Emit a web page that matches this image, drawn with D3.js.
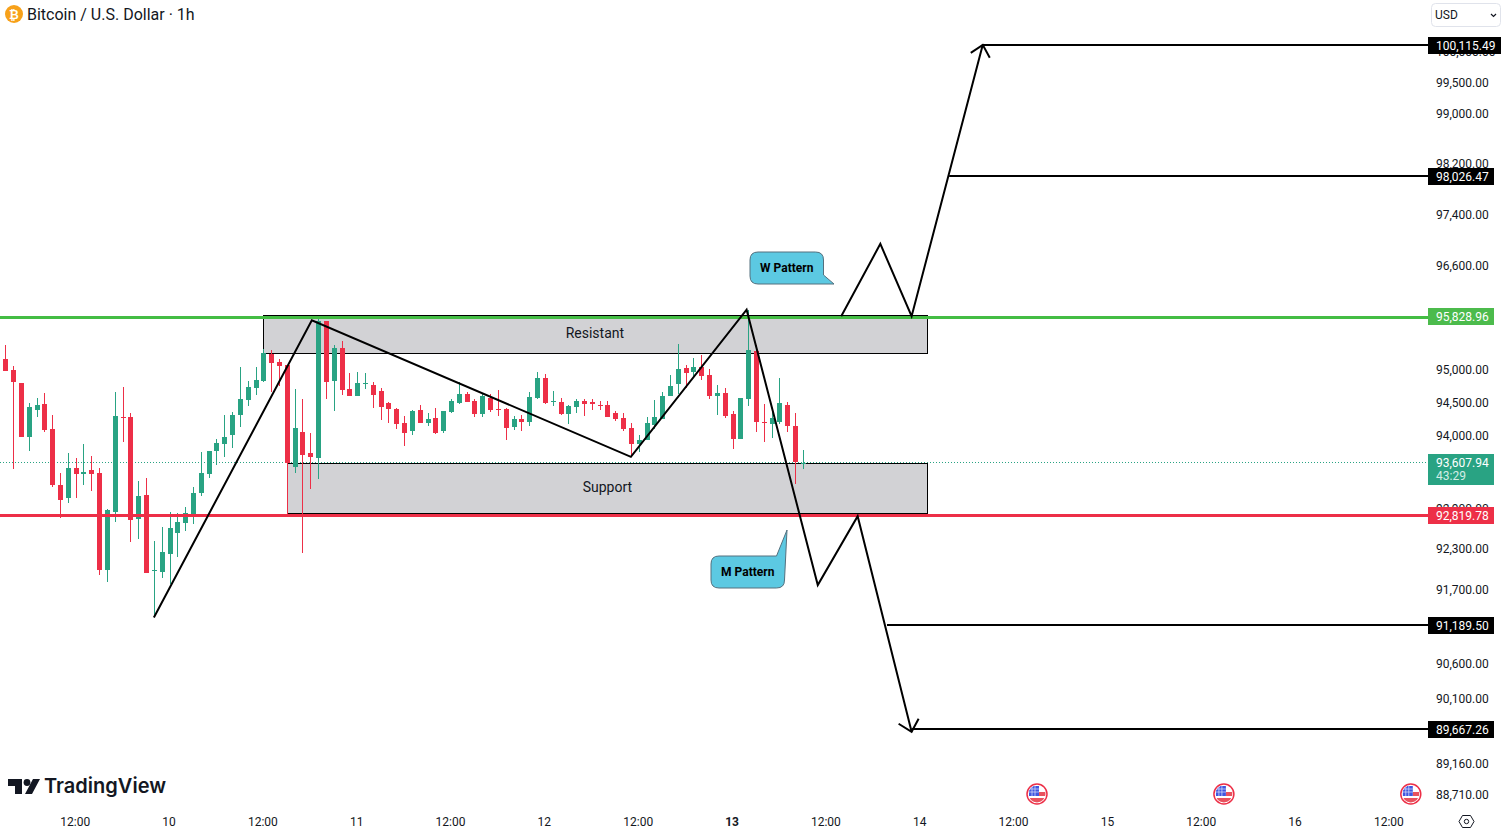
<!DOCTYPE html>
<html>
<head>
<meta charset="utf-8">
<title>Bitcoin / U.S. Dollar</title>
<script src="https://cdn.jsdelivr.net/npm/d3@7/dist/d3.min.js"></script>
<style>
  html, body { margin: 0; padding: 0; background: #fff; overflow: hidden; }
  svg { display: block; font-family: Roboto, sans-serif; }
</style>
</head>
<body>
<div id="chart"></div>
<script>
// hourly candles, first one is hour -1 (partly cut off on the left)
const firstHour = -1;
const opens = [95106,95183,95014,94816,93996,94406,94497,94117,93275,93075,93530,93440,93500,93455,92004,92868,94300,94300,92763,93120,91995,91975,92243,92555,92704,92823,93150,93440,93785,93890,94025,94330,94558,94740,94846,95260,95137,95091,93545,94071,93755,93680,95767,94846,95352,94725,94618,94801,94786,94695,94512,94421,94208,94086,94406,94208,94284,94086,94375,94512,94649,94542,94345,94588,94421,94421,94147,94269,94223,94588,94892,94527,94527,94345,94451,94542,94527,94481,94481,94360,94284,94132,93890,93950,94177,94269,94618,94801,95045,94983,95060,94938,94618,94664,94345,93965,94573,95306,94223,94193,94223,94481,94162,93605];
const highs = [95183,95398,95075,94816,94512,94588,94664,94330,93455,93755,93680,93890,93710,93530,92912,94679,94755,94360,93335,93380,92436,92644,92868,92853,92942,93245,93770,93785,93965,94330,94375,95060,94846,95060,95337,95321,95183,95091,94725,94573,94056,95814,95767,95398,95460,94968,94983,94968,94831,94740,94527,94436,94314,94406,94481,94360,94436,94390,94573,94831,94679,94573,94649,94649,94710,94436,94314,94330,94679,94983,94953,94694,94588,94481,94573,94573,94573,94542,94542,94390,94360,94208,94025,94299,94558,94679,94938,95414,95091,95198,95245,95029,94786,94740,94390,94588,95937,95398,94497,94405,94892,94527,94360,93800];
const lows = [95106,94998,93515,93996,93785,94300,94071,93245,92778,93000,93075,93275,93180,91931,91827,92719,93920,92421,92466,91960,91306,91887,91798,92198,92585,92689,93105,93380,93575,93695,93830,94147,94466,94634,94831,94679,94770,92838,93455,92258,93215,93365,94573,94390,94634,94618,94618,94725,94436,94253,94208,94117,93860,94025,94208,94162,94041,94056,94360,94497,94527,94299,94299,94375,94314,93950,94101,94086,94162,94573,94497,94466,94329,94193,94360,94314,94405,94405,94299,94238,94086,93695,93770,93950,94116,94269,94618,94649,94740,94907,94862,94573,94329,94284,93815,93965,94466,94071,93920,93980,94193,94071,93290,93515];
const closes = [95183,94998,94831,93996,94451,94482,94101,93275,93045,93530,93440,93470,93440,92004,92897,94315,94284,92749,93105,91960,92004,92272,92630,92719,92853,93150,93455,93785,93905,93996,94330,94573,94755,94862,95275,95122,95075,93605,94132,93725,93695,95767,94831,95352,94710,94618,94816,94821,94634,94451,94421,94193,94056,94390,94208,94269,94056,94390,94542,94649,94527,94345,94618,94406,94406,94132,94269,94223,94603,94892,94512,94542,94345,94466,94542,94497,94497,94471,94299,94269,94116,93890,93950,94208,94299,94618,94770,95029,94968,95060,94922,94618,94664,94314,93965,94588,95321,94223,94208,94284,94512,94162,93620,93607.94];

// right axis, log scale
const priceTicks = [100000,99500,99000,98200,97400,96600,95800,95000,94500,94000,93500,92900,92300,91700,91160,90600,90100,89160,88710];

// bottom axis, hours from the first day
const timeTicks = [9,21,33,45,57,69,81,93,105,117,129,141,153,165,177];
const timeLabels = ["12:00","10","12:00","11","12:00","12","12:00","13","12:00","14","12:00","15","12:00","16","12:00"];

// levels
const resistantLevel = 95828.96;
const supportLevel = 92819.78;
const lastPrice = 93607.94;
const countdown = "43:29";
const targetStarts = [125, 120.7, 112.75, 115.9];
const targetPrices = [100115.49, 98026.47, 91189.50, 89667.26];

// drawn zones
const zoneNames = ["Resistant", "Support"];
const zoneStarts = [32.95, 36];
const zoneEnds = [117.9, 117.9];
const zoneTops = [95864, 93600];
const zoneBottoms = [95280, 92856];
const zoneLabelHours = [75.4, 77];
const zoneLabelPrices = [95580, 93240];

// hand drawn swing lines
const swingHours = [19, 39.2, 80, 94.8, 103.9, 109, 115.9];
const swingPrices = [91306, 95783, 93700, 95948, 91783, 92808, 89640];
const wHours = [106.9, 111.9, 115.9, 125];
const wPrices = [95846, 96970, 95846, 100130];

const eventHours = [132, 155.9, 179.8];

const W = 1502, H = 832;
const plotRight = 1428;

const x = d3.scaleLinear().domain([0, 177]).range([5.3, 1389.4]);
const y = d3.scaleLog().domain([99500, 88710]).range([84, 796.5]);

const UP = "#29a383", DOWN = "#ed2f47", LINE_GREEN = "#44bd44", INK = "#131722";

const svg = d3.select("#chart").append("svg")
  .attr("width", W)
  .attr("height", H);

const candles = opens.map((o, i) => ({
  hour: firstHour + i, o, h: highs[i], l: lows[i], c: closes[i]
}));

// zones go below the candles
const zones = zoneNames.map((name, i) => ({
  name, x0: zoneStarts[i], x1: zoneEnds[i], top: zoneTops[i], bottom: zoneBottoms[i],
  lx: zoneLabelHours[i], ly: zoneLabelPrices[i]
}));
svg.append("g").selectAll("rect")
  .data(zones)
  .join("rect")
  .attr("x", d => Math.round(x(d.x0)) + 0.5)
  .attr("y", d => Math.round(y(d.top)) + 0.5)
  .attr("width", d => Math.round(x(d.x1) - x(d.x0)))
  .attr("height", d => Math.round(y(d.bottom)) - Math.round(y(d.top)))
  .attr("fill", "#d2d2d5")
  .attr("stroke", "#000")
  .attr("stroke-width", 1);

svg.append("line")
  .attr("x1", 0)
  .attr("x2", plotRight)
  .attr("y1", Math.floor(y(lastPrice)) + 0.5)
  .attr("y2", Math.floor(y(lastPrice)) + 0.5)
  .attr("stroke", UP)
  .attr("stroke-dasharray", "1 2");

// candles
const candleG = svg.append("g");
candleG.selectAll(".wick")
  .data(candles)
  .join("rect")
  .attr("class", "wick")
  .attr("x", d => Math.round(x(d.hour)))
  .attr("y", d => Math.round(y(d.h)))
  .attr("width", 1)
  .attr("height", d => Math.max(1, Math.round(y(d.l)) - Math.round(y(d.h))))
  .attr("fill", d => d.c >= d.o ? UP : DOWN);
candleG.selectAll(".body")
  .data(candles)
  .join("rect")
  .attr("class", "body")
  .attr("x", d => Math.round(x(d.hour)) - 2)
  .attr("y", d => Math.round(y(Math.max(d.o, d.c))))
  .attr("width", 5)
  .attr("height", d => Math.max(1, Math.round(y(Math.min(d.o, d.c))) - Math.round(y(Math.max(d.o, d.c)))))
  .attr("fill", d => d.c >= d.o ? UP : DOWN);

svg.append("g").selectAll("text")
  .data(zones)
  .join("text")
  .attr("x", d => x(d.lx))
  .attr("y", d => y(d.ly))
  .attr("text-anchor", "middle")
  .attr("dominant-baseline", "central")
  .attr("font-size", 14)
  .attr("fill", INK)
  .text(d => d.name);

// support and resistance lines
svg.append("g").selectAll("line")
  .data([[resistantLevel, LINE_GREEN], [supportLevel, DOWN]])
  .join("line")
  .attr("x1", 0)
  .attr("x2", plotRight)
  .attr("y1", d => Math.round(y(d[0])) + 0.5)
  .attr("y2", d => Math.round(y(d[0])) + 0.5)
  .attr("stroke", d => d[1])
  .attr("stroke-width", 3);

// swing lines
const path = d3.line().x(d => x(d[0])).y(d => y(d[1]));
svg.append("path")
  .attr("d", path(swingHours.map((h, i) => [h, swingPrices[i]])))
  .attr("fill", "none")
  .attr("stroke", "#000")
  .attr("stroke-width", 2);
svg.append("path")
  .attr("d", path(wHours.map((h, i) => [h, wPrices[i]])))
  .attr("fill", "none")
  .attr("stroke", "#000")
  .attr("stroke-width", 2);

// arrow heads
const upTip = [x(wHours[3]), y(wPrices[3])];
const downTip = [x(swingHours[6]), y(swingPrices[6])];
svg.append("path")
  .attr("d", `M${upTip[0] - 12},${upTip[1] + 8}L${upTip[0]},${upTip[1]}L${upTip[0] + 7},${upTip[1] + 13}`)
  .attr("fill", "none").attr("stroke", "#000").attr("stroke-width", 2);
svg.append("path")
  .attr("d", `M${downTip[0] - 13},${downTip[1] - 8}L${downTip[0]},${downTip[1]}L${downTip[0] + 7},${downTip[1] - 13}`)
  .attr("fill", "none").attr("stroke", "#000").attr("stroke-width", 2);

// target lines
svg.append("g").selectAll("line")
  .data(targetPrices)
  .join("line")
  .attr("x1", (d, i) => x(targetStarts[i]))
  .attr("x2", plotRight)
  .attr("y1", d => Math.floor(y(d)))
  .attr("y2", d => Math.floor(y(d)))
  .attr("stroke", "#000")
  .attr("stroke-width", 2);

// callouts
function callout(left, top, w, h, tail, label) {
  const r = 8;
  const tailX = tail[0] - left, tailY = tail[1] - top;
  let d;
  if (tailY > h / 2) {
    // tail off the lower right corner
    d = `M${r},0H${w - r}Q${w},0 ${w},${r}V${h - 9}L${tailX},${h}H${r}Q0,${h} 0,${h - r}V${r}Q0,0 ${r},0Z`;
  } else {
    // tail off the upper right corner
    d = `M${r},0H${w - 8}L${tailX},${tailY}L${w},${h - r}Q${w},${h} ${w - r},${h}H${r}Q0,${h} 0,${h - r}V${r}Q0,0 ${r},0Z`;
  }
  const g = svg.append("g").attr("transform", `translate(${left},${top})`);
  g.append("path").attr("d", d)
    .attr("fill", "#5cc9e2")
    .attr("stroke", "#54707e")
    .attr("stroke-width", 1);
  g.append("text")
    .attr("x", w / 2)
    .attr("y", h / 2)
    .attr("text-anchor", "middle")
    .attr("dominant-baseline", "central")
    .attr("font-size", 12)
    .attr("font-weight", 700)
    .attr("fill", "#000")
    .text(label);
}
callout(750, 252, 73.5, 32, [834, 284], "W Pattern");
callout(711, 556, 73.5, 32, [787, 530], "M Pattern");

// price axis
const yAxis = d3.axisRight(y)
  .tickValues(priceTicks)
  .tickSize(0)
  .tickPadding(0)
  .tickFormat(d3.format(",.2f"));
const yAxisG = svg.append("g")
  .attr("transform", "translate(1436,-1.5)")
  .call(yAxis);
yAxisG.select(".domain").remove();
yAxisG.selectAll("text")
  .attr("font-family", "Roboto, sans-serif")
  .attr("font-size", 12)
  .attr("fill", INK);

// price labels on the axis
const priceFmt = d3.format(",.2f");
const tags = [
  { p: targetPrices[0], fill: "#000", w: 73, dy: 0 },
  { p: targetPrices[1], fill: "#000", w: 66, dy: 0 },
  { p: resistantLevel, fill: "#4cbb4c", w: 66, dy: -1 },
  { p: supportLevel, fill: DOWN, w: 66, dy: 0 },
  { p: targetPrices[2], fill: "#000", w: 66, dy: 0 },
  { p: targetPrices[3], fill: "#000", w: 66, dy: 0 }
];
const tagG = svg.append("g").selectAll("g")
  .data(tags)
  .join("g")
  .attr("transform", d => `translate(1428,${Math.floor(y(d.p)) - 8 + d.dy})`);
tagG.append("rect")
  .attr("width", d => d.w)
  .attr("height", 17)
  .attr("fill", d => d.fill);
tagG.append("text")
  .attr("x", 8)
  .attr("y", 8.5)
  .attr("dominant-baseline", "central")
  .attr("font-size", 12)
  .attr("fill", "#fff")
  .text(d => priceFmt(d.p));

const lastG = svg.append("g").attr("transform", `translate(1428,${Math.floor(y(lastPrice)) - 8})`);
lastG.append("rect").attr("width", 66).attr("height", 31).attr("fill", UP);
lastG.append("text")
  .attr("x", 8).attr("y", 8.5)
  .attr("dominant-baseline", "central")
  .attr("font-size", 12).attr("fill", "#fff")
  .text(priceFmt(lastPrice));
lastG.append("text")
  .attr("x", 8).attr("y", 22)
  .attr("dominant-baseline", "central")
  .attr("font-size", 12).attr("fill", "#d4ede6")
  .text(countdown);

// time axis
const xAxis = d3.axisBottom(x)
  .tickValues(timeTicks)
  .tickSize(0)
  .tickPadding(0)
  .tickFormat((d, i) => timeLabels[i]);
const xAxisG = svg.append("g")
  .attr("transform", "translate(-1,817)")
  .call(xAxis);
xAxisG.select(".domain").remove();
xAxisG.selectAll("text")
  .attr("font-family", "Roboto, sans-serif")
  .attr("font-size", 12)
  .attr("fill", INK)
  .attr("font-weight", d => d === 93 ? 700 : 400);

// economic event flags
const defs = svg.append("defs");
defs.append("clipPath").attr("id", "flagClip").append("circle").attr("r", 8.5);
const flags = svg.append("g").selectAll("g")
  .data(eventHours)
  .join("g")
  .attr("transform", d => `translate(${x(d) - 0.5},794)`);
flags.append("circle").attr("r", 10).attr("fill", "#fff").attr("stroke", DOWN).attr("stroke-width", 1.5);
const flagBody = flags.append("g").attr("clip-path", "url(#flagClip)");
flagBody.append("rect").attr("x", 2).attr("y", -2).attr("width", 7).attr("height", 4).attr("fill", "#e8525e");
flagBody.append("rect").attr("x", -9).attr("y", 4).attr("width", 18).attr("height", 5).attr("fill", "#e8525e");
flagBody.append("rect").attr("x", -8).attr("y", -8).attr("width", 10).attr("height", 10).attr("fill", "#3f57e0");
flagBody.append("path")
  .attr("d", "M-5,-8V2M-2,-8V2M-8,-5H2M-8,-2H2")
  .attr("stroke", "#dfe4fb").attr("stroke-width", 0.7);

// header
svg.append("circle").attr("cx", 14).attr("cy", 14).attr("r", 9).attr("fill", "#f7a11a");
svg.append("text")
  .attr("x", 14).attr("y", 14.5)
  .attr("text-anchor", "middle")
  .attr("dominant-baseline", "central")
  .attr("font-size", 12).attr("font-weight", 700)
  .attr("fill", "#fff")
  .text("₿");
svg.append("text")
  .attr("x", 27).attr("y", 14)
  .attr("dominant-baseline", "central")
  .attr("font-size", 16)
  .attr("fill", INK)
  .text("Bitcoin / U.S. Dollar · 1h");

// currency select
svg.append("rect")
  .attr("x", 1431.5).attr("y", 3.5)
  .attr("width", 69).attr("height", 23).attr("rx", 4)
  .attr("fill", "#fff").attr("stroke", "#e0e3eb");
svg.append("text")
  .attr("x", 1435).attr("y", 15)
  .attr("dominant-baseline", "central")
  .attr("font-size", 12).attr("fill", INK)
  .text("USD");
svg.append("path")
  .attr("d", "M1491,14l2.5,2.5l2.5,-2.5")
  .attr("fill", "none").attr("stroke", INK).attr("stroke-width", 1.2);

// tradingview logo
svg.append("path")
  .attr("d", "M8,779H22V794H15V786H8Z M33,779H40L32,794H25Z")
  .attr("fill", INK);
svg.append("circle").attr("cx", 27).attr("cy", 782.5).attr("r", 3.4).attr("fill", INK);
svg.append("text")
  .attr("x", 44).attr("y", 793)
  .attr("font-family", "Inter, sans-serif")
  .attr("font-size", 20.5).attr("font-weight", 600)
  .attr("textLength", 122)
  .attr("lengthAdjust", "spacingAndGlyphs")
  .attr("fill", INK)
  .text("TradingView");

// settings icon
svg.append("path")
  .attr("d", "M1459,821.5l3.5,-6h8l3.5,6l-3.5,6h-8Z")
  .attr("fill", "none").attr("stroke", INK);
svg.append("circle").attr("cx", 1466.5).attr("cy", 821.5).attr("r", 2.2).attr("fill", "none").attr("stroke", INK);
</script>
</body>
</html>
